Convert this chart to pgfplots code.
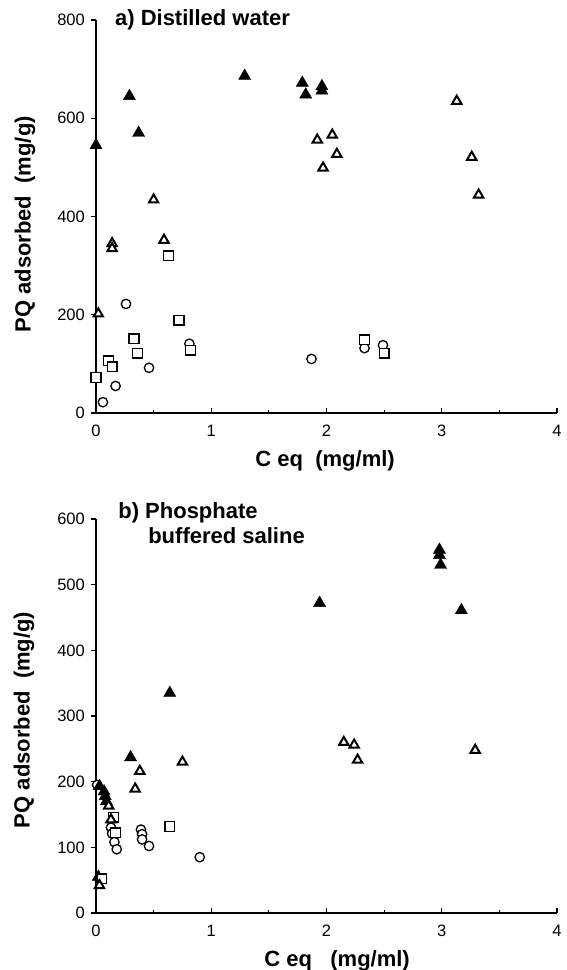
\documentclass[border=0pt]{standalone}
\usepackage{fontspec}
\setmainfont{Liberation Sans}
\usepackage{pgfplots}
\pgfplotsset{compat=1.18}
\newcommand{\lab}{\fontsize{22}{24}\selectfont\bfseries}
\pgfplotsset{
  panel/.style={
    scale only axis, width=461pt, clip=false,
    axis x line=bottom, axis y line=left,
    axis line style={-, line width=1.3pt},
    xmin=0, xmax=4, ymin=0,
    xtick={0,1,2,3,4}, minor xtick={0.5,1.5,2.5,3.5},
    tick align=inside,
    major tick length=5pt, minor tick length=3pt,
    every tick/.style={black, line width=1.2pt},
    y tick style={xshift=-5pt},
    ticklabel style={font=\fontsize{16.5}{17}\selectfont},
    /pgf/number format/assume math mode=true,
    xticklabel style={inner sep=0pt, yshift=-12pt},
    yticklabel style={inner sep=0pt, xshift=-11pt},
    xlabel style={font=\lab, anchor=center},
    ylabel style={font=\lab, anchor=center},
  },
  ftri/.style={only marks, mark=triangle*, mark size=7pt, mark options={fill=black, draw=black, line width=0.4pt}},
  otri/.style={only marks, mark=triangle*, mark size=5.4pt, mark options={fill=white, draw=black, line width=2pt}},
  osq/.style={only marks, mark=square*, mark size=4.9pt, mark options={fill=white, draw=black, line width=1.3pt}},
  ocirc/.style={only marks, mark=*, mark size=4.7pt, mark options={fill=white, draw=black, line width=1.3pt}},
}
\begin{document}
\begin{tikzpicture}
\useasboundingbox (0pt,0pt) rectangle (566pt,970pt);
% ---------------- panel a
\begin{axis}[panel, at={(96pt,557pt)}, anchor=south west, height=393pt,
  ymax=800, ytick={0,200,400,600,800},
  xlabel={C eq\ \ (mg/ml)}, ylabel={PQ adsorbed\ \ (mg/g)},
  xlabel style={at={(axis description cs:0.497,-0.122)}},
  ylabel style={at={(axis description cs:-0.154,0.48)}}]
\addplot[ocirc] coordinates {(0.06,22) (0.17,55) (0.26,222) (0.46,92) (0.81,141) (1.87,110) (2.33,132) (2.49,138)};
\addplot[ftri] coordinates {(0,545) (0.29,645) (0.37,570) (1.29,686) (1.79,672) (1.82,648) (1.96,665) (1.96,656)};
\addplot[osq] coordinates {(0,72) (0.11,106) (0.14,94) (0.33,151) (0.36,122) (0.63,320) (0.72,189) (0.82,128) (2.33,149) (2.50,122)};
\addplot[otri] coordinates {(0.02,202) (0.14,345) (0.14,335) (0.50,434) (0.59,352) (1.92,556) (2.05,566) (2.09,527) (1.97,499) (3.13,635) (3.26,521) (3.32,444)};
\node[anchor=west, font=\lab, inner sep=0pt] at (rel axis cs:0.041,1.0) {a) Distilled water};
\end{axis}
% ---------------- panel b
\begin{axis}[panel, at={(96pt,57pt)}, anchor=south west, height=394pt,
  ymax=600, ytick={0,100,200,300,400,500,600},
  xlabel={C eq\ \ \ (mg/ml)}, ylabel={PQ adsorbed\ \ (mg/g)},
  xlabel style={at={(axis description cs:0.523,-0.122)}},
  ylabel style={at={(axis description cs:-0.156,0.49)}}]
\addplot[ocirc] coordinates {(0.01,195) (0.13,130) (0.14,121) (0.16,108) (0.18,97) (0.39,127) (0.40,120) (0.40,112) (0.46,102) (0.90,85)};
\addplot[ftri] coordinates {(0.03,193) (0.07,185) (0.08,178) (0.09,170) (0.02,55) (0.30,237) (0.64,335) (1.94,472) (2.98,553) (2.98,545) (2.99,530) (3.17,461)};
\addplot[osq] coordinates {(0.15,146) (0.17,122) (0.05,52) (0.64,132)};
\addplot[otri] coordinates {(0.11,163) (0.13,142) (0.03,42) (0.34,189) (0.38,216) (0.75,230) (2.15,260) (2.24,256) (2.27,233) (3.29,248)};
\node[anchor=west, font=\lab, inner sep=0pt] at (rel axis cs:0.048,1.015) {b) Phosphate};
\node[anchor=west, font=\lab, inner sep=0pt] at (rel axis cs:0.113,0.959) {buffered saline};
\end{axis}
\end{tikzpicture}
\end{document}
